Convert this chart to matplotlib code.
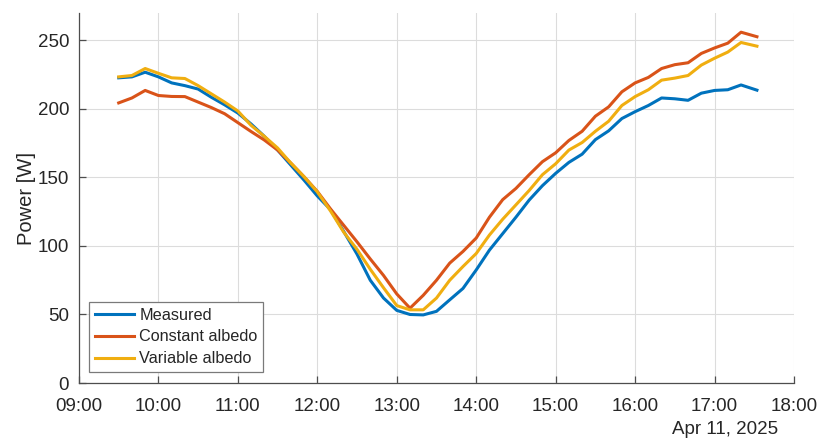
import numpy as np
import matplotlib
matplotlib.use('Agg')
import matplotlib.pyplot as plt
import matplotlib.dates as mdates
import pandas as pd

plt.rcParams['font.family'] = ['Liberation Sans', 'DejaVu Sans']

day = '2025-04-11'
times = ['09:30', '09:40', '09:50', '10:00', '10:10', '10:20', '10:30', '10:40', '10:50',
         '11:00', '11:10', '11:20', '11:30', '11:40', '11:50', '12:00', '12:10', '12:20',
         '12:30', '12:40', '12:50', '13:00', '13:10', '13:20', '13:30', '13:40', '13:50',
         '14:00', '14:10', '14:20', '14:30', '14:40', '14:50', '15:00', '15:10', '15:20',
         '15:30', '15:40', '15:50', '16:00', '16:10', '16:20', '16:30', '16:40', '16:50',
         '17:00', '17:10', '17:20', '17:32']

measured = [222.7, 223.4, 226.8, 223.4, 219.0, 217.0, 214.5, 208.5, 203.0,
            197.0, 189.0, 180.0, 170.0, 159.0, 148.0, 136.5, 126.5, 110.5,
            94.0, 75.0, 62.0, 53.0, 50.0, 49.7, 52.3, 60.7, 69.0,
            82.5, 97.0, 109.0, 121.0, 133.5, 144.0, 153.0, 161.0, 167.0,
            177.6, 184.0, 193.0, 198.0, 202.5, 208.0, 207.4, 206.3, 211.5,
            213.5, 214.0, 217.5, 213.7]

constant_albedo = [204.4, 208.0, 213.5, 209.8, 209.1, 209.0, 205.0, 201.0, 196.5,
                   190.0, 183.5, 177.3, 170.0, 160.5, 150.5, 139.8, 127.0, 115.0,
                   103.0, 90.5, 78.5, 65.0, 54.6, 64.0, 75.0, 87.5, 96.0,
                   105.8, 121.0, 133.8, 142.0, 152.0, 161.5, 168.0, 177.0, 183.7,
                   194.7, 201.5, 212.5, 219.0, 223.0, 229.5, 232.3, 233.7, 240.5,
                   244.5, 248.0, 256.0, 252.7]

variable_albedo = [223.4, 224.4, 229.5, 226.0, 222.7, 222.2, 217.0, 211.0, 205.0,
                   198.5, 188.0, 180.0, 171.5, 160.5, 150.5, 139.5, 125.5, 110.0,
                   97.5, 83.0, 69.5, 56.5, 53.4, 53.4, 62.0, 75.0, 85.0,
                   94.5, 108.0, 119.5, 130.0, 140.5, 152.0, 160.0, 170.0, 175.5,
                   183.7, 191.0, 202.5, 209.0, 214.0, 221.0, 222.5, 224.4, 232.0,
                   237.0, 241.5, 248.5, 245.8]

t = pd.to_datetime([day + ' ' + s for s in times])

fig = plt.figure(figsize=(8.2, 4.41), dpi=100)
ax = fig.add_axes([0.0963, 0.1315, 0.872, 0.839])

ax.plot(t, measured, color='#0072BD', lw=2.2, label='Measured')
ax.plot(t, constant_albedo, color='#D95319', lw=2.2, label='Constant albedo')
ax.plot(t, variable_albedo, color='#F0AE10', lw=2.2, label='Variable albedo')

ax.set_xlim(pd.Timestamp(day + ' 09:00'), pd.Timestamp(day + ' 18:00'))
ax.set_ylim(0, 270)
ax.set_yticks(np.arange(0, 251, 50))
ax.xaxis.set_major_locator(mdates.HourLocator())
ax.xaxis.set_major_formatter(mdates.DateFormatter('%H:%M'))

ax.grid(True, color='#dcdcdc', lw=0.8)
ax.set_axisbelow(True)
for s in ['top', 'right']:
    ax.spines[s].set_visible(False)
for s in ['left', 'bottom']:
    ax.spines[s].set_color('#4d4d4d')
    ax.spines[s].set_linewidth(0.9)
ax.tick_params(direction='in', length=5, width=0.9, color='#4d4d4d',
               labelsize=13.5, labelcolor='#262626')
ax.tick_params(axis='x', pad=11)
ax.tick_params(axis='y', pad=7)

ax.set_ylabel('Power [W]', fontsize=14.5, color='#262626', labelpad=1)

fig.text(0.949, 0.027, 'Apr 11, 2025', ha='right', va='center',
         fontsize=13.5, color='#262626')

leg = ax.legend(loc='lower left', bbox_to_anchor=(0.014, 0.03), borderaxespad=0,
                fontsize=11.7, handlelength=2.45, handletextpad=0.3,
                labelspacing=0.42, fancybox=False, framealpha=1,
                edgecolor='#7a7a7a', borderpad=0.35)
leg.get_frame().set_linewidth(0.9)
for txt in leg.get_texts():
    txt.set_color('#262626')

fig.savefig('out.png', dpi=100)
